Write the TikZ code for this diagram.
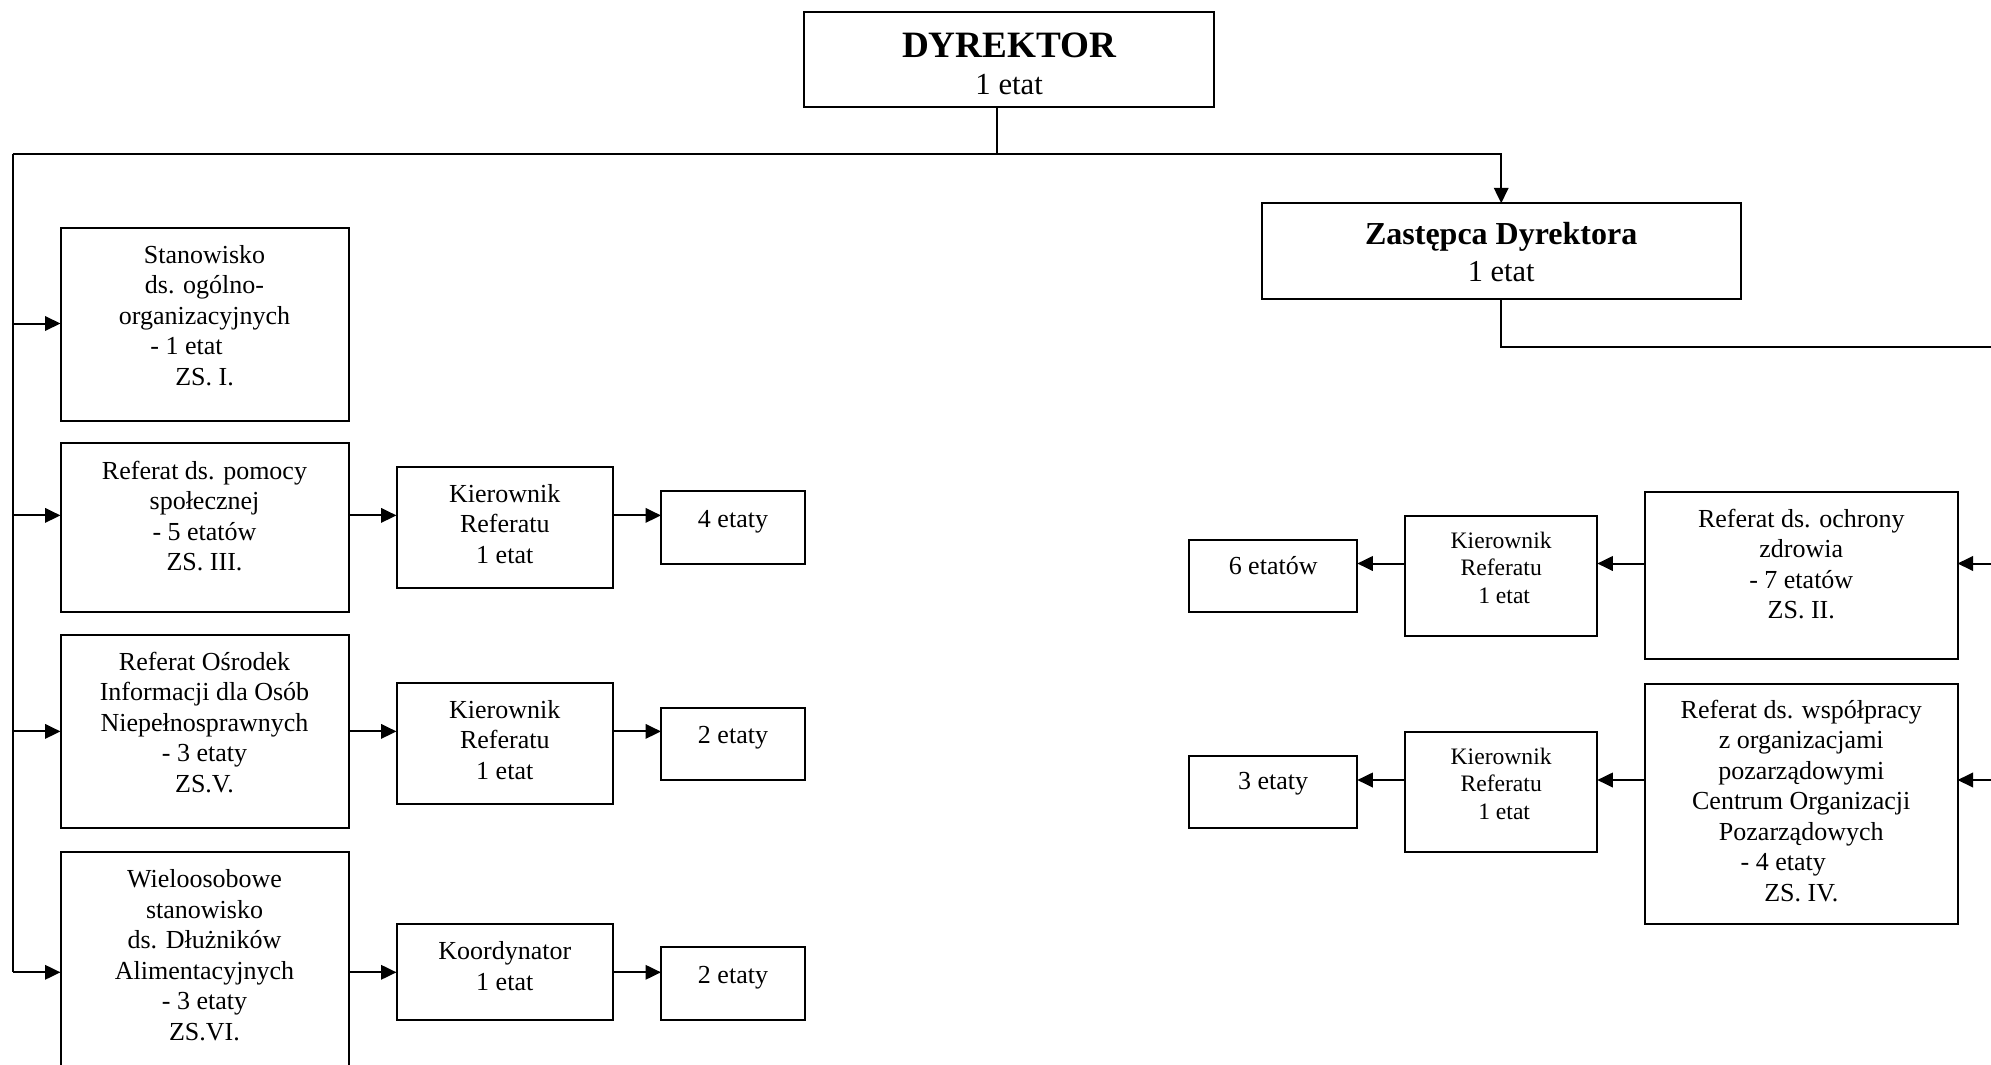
\documentclass[tikz,border=0pt]{standalone}
\usepackage{fontspec}
\setmainfont{Liberation Serif}
\usetikzlibrary{arrows.meta}
\newcommand\bxt[4]{\parbox[c][#2pt][t]{#1pt}{\centering\fontsize{26}{30.5}\selectfont\rule{0pt}{#3pt}#4}}
\newcommand\bxs[4]{\parbox[c][#2pt][t]{#1pt}{\centering\fontsize{23.6}{27.5}\selectfont\rule{0pt}{#3pt}#4}}
\newcommand\shl[2]{\mbox{#1}\hspace{#2}\mbox{}}
\begin{document}
\begin{tikzpicture}[x=1pt,y=-1pt, line width=2pt,
  box/.style={draw, line width=2pt, inner sep=0pt, outer sep=0pt, anchor=north west},
  arr/.style={-{Triangle[length=15.5pt,width=14.5pt]}}]
\useasboundingbox (0,0) rectangle (1991,1065);
\clip (0,0) rectangle (1991,1065);
\fill[white] (0,0) rectangle (1991,1065);

% top
\node[box] (D) at (804.3,11.7) {\parbox[c][95.6pt][t]{409.7pt}{\centering{\fontsize{37.2}{40}\selectfont\bfseries\rule{0pt}{45.6pt}DYREKTOR\par}\fontsize{30.7}{37.7}\selectfont 1 etat}};
\node[box] (Z) at (1261.7,203.3) {\parbox[c][96pt][t]{479pt}{\centering{\fontsize{32}{36}\selectfont\bfseries\rule{0pt}{40.7pt}Zastępca Dyrektora\par}\fontsize{30.4}{37.7}\selectfont 1 etat}};

% left column
\node[box] (S1) at (60.5,227.7) {\bxt{288}{193.3}{35.5}{Stanowisko\\ds. ogólno-\\organizacyjnych\\\shl{- 1 etat}{36pt}\\ZS. I.}};
\node[box] (R1) at (60.5,443.4) {\bxt{288}{168.3}{36}{Referat ds. pomocy\\społecznej\\- 5 etatów\\ZS. III.}};
\node[box] (R2) at (60.5,635.1) {\bxt{288}{192.9}{35}{Referat Ośrodek\\Informacji dla Osób\\Niepełnosprawnych\\- 3 etaty\\ZS.V.}};
\node[box] (R3) at (60.5,852.3) {\bxt{288}{250}{35.5}{Wieloosobowe\\stanowisko\\ds. Dłużników\\Alimentacyjnych\\- 3 etaty\\ZS.VI.}};

\node[box] (K1) at (396.5,467.3) {\bxt{216.5}{120.5}{35}{Kierownik\\Referatu\\1 etat}};
\node[box] (K2) at (396.5,683.3) {\bxt{216.5}{120.5}{35}{Kierownik\\Referatu\\1 etat}};
\node[box] (K3) at (396.5,924) {\bxt{216.5}{96}{35.5}{Koordynator\\1 etat}};

\node[box] (E1) at (661,491.2) {\bxt{144}{72.8}{36}{4 etaty}};
\node[box] (E2) at (661,707.5) {\bxt{144}{72.8}{36}{2 etaty}};
\node[box] (E3) at (661,947.4) {\bxt{144}{72.4}{36}{2 etaty}};

% right column
\node[box] (RO) at (1645,491.7) {\bxt{312.5}{167.6}{35.5}{Referat ds. ochrony\\zdrowia\\- 7 etatów\\ZS. II.}};
\node[box] (RW) at (1645,683.7) {\bxt{312.5}{240.2}{34.5}{Referat ds. współpracy\\z organizacjami\\pozarządowymi\\Centrum Organizacji\\Pozarządowych\\\shl{- 4 etaty}{36pt}\\ZS. IV.}};
\node[box] (KR1) at (1405,515.7) {\bxs{192.3}{120}{32.6}{Kierownik\\Referatu\\\mbox{}\hspace{6pt}1 etat}};
\node[box] (KR2) at (1405,731.8) {\bxs{192.3}{120}{32.6}{Kierownik\\Referatu\\\mbox{}\hspace{6pt}1 etat}};
\node[box] (E4) at (1189,540) {\bxt{168.3}{71.7}{34}{6 etatów}};
\node[box] (E5) at (1189,755.7) {\bxt{168.3}{71.9}{34}{3 etaty}};

% connectors
\coordinate (L0) at (12.7,154.3);
\coordinate (dj) at (997.3,154.3);
\coordinate (a1) at (12.7,323.5);
\coordinate (a2) at (12.7,515.4);
\coordinate (a3) at (12.7,731.4);
\coordinate (a4) at (12.7,972.3);
\draw (D.south -| dj) -- (dj);
\draw[arr] (L0) -| (Z.north);
\draw (L0) -- (a4);
\draw[arr] (a1) -- (a1 -| S1.west);
\draw[arr] (a2) -- (a2 -| R1.west);
\draw[arr] (a2 -| R1.east) -- (a2 -| K1.west);
\draw[arr] (a2 -| K1.east) -- (a2 -| E1.west);
\draw[arr] (a3) -- (a3 -| R2.west);
\draw[arr] (a3 -| R2.east) -- (a3 -| K2.west);
\draw[arr] (a3 -| K2.east) -- (a3 -| E2.west);
\draw[arr] (a4) -- (a4 -| R3.west);
\draw[arr] (a4 -| R3.east) -- (a4 -| K3.west);
\draw[arr] (a4 -| K3.east) -- (a4 -| E3.west);

\coordinate (rb) at (2000,347);
\coordinate (b1) at (2000,563.5);
\coordinate (b2) at (2000,780);
\draw (Z.south) |- (rb) -- (b2);
\draw[arr] (b1) -- (b1 -| RO.east);
\draw[arr] (b1 -| RO.west) -- (b1 -| KR1.east);
\draw[arr] (b1 -| KR1.west) -- (b1 -| E4.east);
\draw[arr] (b2) -- (b2 -| RW.east);
\draw[arr] (b2 -| RW.west) -- (b2 -| KR2.east);
\draw[arr] (b2 -| KR2.west) -- (b2 -| E5.east);
\end{tikzpicture}
\end{document}
